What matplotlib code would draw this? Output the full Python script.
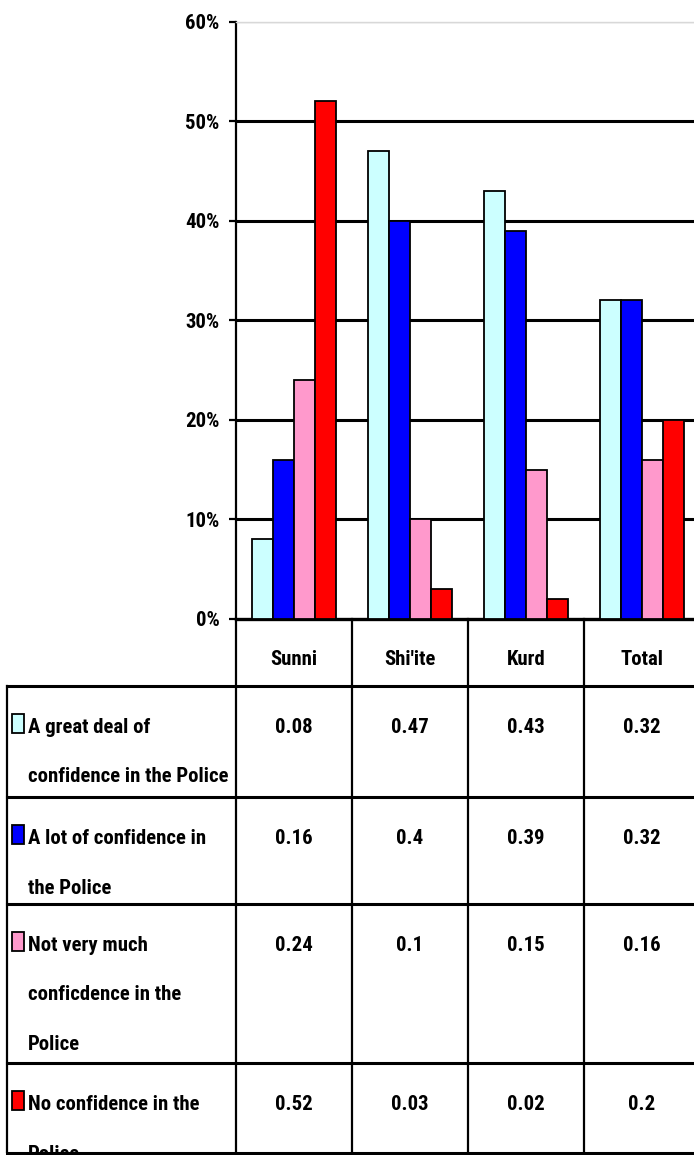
import matplotlib
matplotlib.use('Agg')
import matplotlib.pyplot as plt
from matplotlib import font_manager as fm
from matplotlib.patches import Rectangle
from matplotlib.transforms import blended_transform_factory
import numpy as np

groups = ['Sunni', "Shi'ite", 'Kurd', 'Total']
series = [['A great deal of', 'confidence in the Police'],
          ['A lot of confidence in', 'the Police'],
          ['Not very much', 'conficdence in the', 'Police'],
          ['No confidence in the', 'Police']]
great_deal = [0.08, 0.47, 0.43, 0.32]
a_lot = [0.16, 0.40, 0.39, 0.32]
not_much = [0.24, 0.10, 0.15, 0.16]
no_conf = [0.52, 0.03, 0.02, 0.20]
colors = ['#CCFFFF', '#0000FF', '#FF99CC', '#FF0000']
yticks = [0, 0.1, 0.2, 0.3, 0.4, 0.5, 0.6]

values = [great_deal, a_lot, not_much, no_conf]


# the original uses a tall, narrow bold face; pick the closest one installed
def rank(f):
    key = (f.name + ' ' + f.fname).lower().replace(' ', '').replace('-', '')
    if 'italic' in key or 'oblique' in key or f.weight not in ('bold', 700):
        return None
    if 'noto' in key and 'extracondensed' in key:
        return 0
    if 'noto' in key and 'condensed' in key and 'semi' not in key:
        return 1
    if 'liberation' in key and 'narrow' in key:
        return 2
    if 'roboto' in key and 'condensed' in key:
        return 3
    if 'dejavu' in key and 'condensed' in key:
        return 4
    return None


cands = sorted([(rank(f), f.fname) for f in fm.fontManager.ttflist
                if rank(f) is not None])
if cands:
    fp = fm.FontProperties(fname=cands[0][1])
else:
    fp = fm.FontProperties(family='Liberation Sans', weight='bold')

W, H = 694, 1155
fig = plt.figure(figsize=(W / 100, H / 100), dpi=100)

# size the font so the longest label line fits like in the original
r = fig.canvas.get_renderer()
probe = fig.text(0, 0, 'confidence in the Police', fontproperties=fp,
                 fontsize=10)
wpx = probe.get_window_extent(r).width
probe.remove()
fs = min(10 * 200 / wpx, 20)

# chart area (right edge runs past the picture like the original)
ax = fig.add_axes([236 / W, (H - 619) / H, 464 / W, (619 - 21.7) / H])
x = np.arange(len(groups))
bw = 0.18
for i, (vals, c) in enumerate(zip(values, colors)):
    ax.bar(x + (i - 1.5) * bw, vals, width=bw, color=c, edgecolor='black',
           linewidth=1.3, zorder=3)

ax.set_xlim(-0.5, len(groups) - 0.5)
ax.set_ylim(0, 0.6)
ax.set_yticks(yticks)
ax.set_yticklabels([f'{int(round(t * 100))}%' for t in yticks],
                   fontproperties=fp, fontsize=fs)
ax.set_xticks([])
for t in yticks[1:-1]:
    ax.axhline(t, color='black', lw=2.2, zorder=1)
ax.axhline(0.6, color='#c8c8c8', lw=1, zorder=1)
ax.spines['top'].set_color('#d8d8d8')
ax.spines['top'].set_linewidth(1)
ax.spines['right'].set_visible(False)
ax.spines['left'].set_linewidth(1.6)
ax.spines['bottom'].set_linewidth(2.4)
ax.tick_params(axis='y', length=5, width=1.6, pad=7)

# data table under the chart
row_edges = [619, 686, 797, 904, 1063, 1153]
ax_t = fig.add_axes([0, (H - 1153) / H, 1, (1153 - 619) / H])
ax_t.set_xlim(0, W)
ax_t.set_ylim(1153, 619)
ax_t.axis('off')
tr = blended_transform_factory(ax.transData, ax_t.transData)

xl, xr = 7, W + 10
for y in row_edges[1:]:
    ax_t.plot([xl, xr], [y, y], color='black', lw=2.2, clip_on=False)
ax_t.plot([xl, xl], [row_edges[1], row_edges[-1]], color='black', lw=1.6)
for b in np.arange(len(groups) + 1) - 0.5:
    ax_t.plot([b, b], [row_edges[0], row_edges[-1]], color='black', lw=1.6,
              transform=tr, clip_on=False)

for j, g in enumerate(groups):
    ax_t.text(j, row_edges[1] - 21, g, transform=tr, ha='center',
              va='baseline', fontproperties=fp, fontsize=fs)

line_gap = 49.5
for i, (lines, vals, c) in enumerate(zip(series, values, colors)):
    base = row_edges[i + 1] + 47
    ax_t.add_patch(Rectangle((12, base - 19), 12, 19, facecolor=c,
                             edgecolor='black', lw=1.3))
    for k, ln in enumerate(lines):
        ax_t.text(28, base + k * line_gap, ln, ha='left', va='baseline',
                  fontproperties=fp, fontsize=fs, clip_on=True)
    for j, v in enumerate(vals):
        ax_t.text(j, base, f'{v:g}', transform=tr, ha='center',
                  va='baseline', fontproperties=fp, fontsize=fs)

fig.savefig('out.png', dpi=100)
